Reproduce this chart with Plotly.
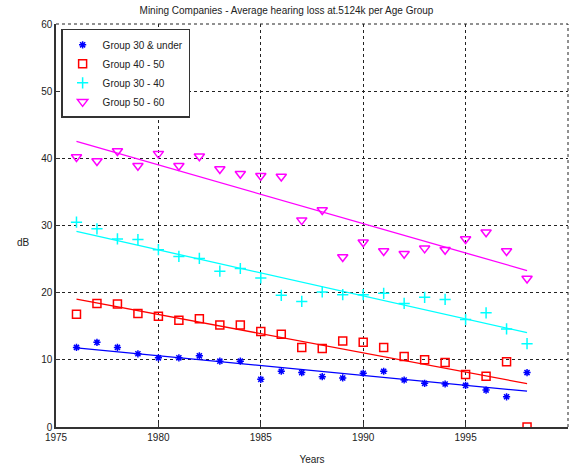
import numpy as np
import plotly.graph_objects as go

years = list(range(1976, 1999))
group_30_under = [11.85, 12.6, 11.85, 10.9, 10.3, 10.3, 10.6, 9.8, 9.8, 7.1, 8.3, 8.1,
                  7.5, 7.3, 8.0, 8.3, 7.0, 6.5, 6.4, 6.2, 5.5, 4.5, 8.1]
group_40_50 = [16.8, 18.4, 18.3, 16.9, 16.5, 15.9, 16.1, 15.2, 15.2, 14.2, 13.8, 11.85,
               11.7, 12.8, 12.6, 11.85, 10.5, 10.0, 9.6, 7.8, 7.55, 9.7, 0.0]
group_30_40 = [30.5, 29.5, 28.0, 27.9, 26.4, 25.4, 25.1, 23.2, 23.6, 22.2, 19.6, 18.7,
               20.1, 19.7, 19.7, 19.9, 18.4, 19.3, 19.0, 16.0, 17.0, 14.6, 12.4]
group_50_60 = [40.2, 39.6, 41.1, 38.9, 40.7, 38.9, 40.3, 38.4, 37.7, 37.4, 37.3, 30.8,
               32.3, 25.3, 27.5, 26.2, 25.8, 26.6, 26.4, 28.0, 29.0, 26.2, 22.1]

series = [
    ("Group 30 & under", group_30_under, "#0000ff", "asterisk-open", 6),
    ("Group 40 - 50", group_40_50, "#ff0000", "square-open", 8),
    ("Group 30 - 40", group_30_40, "#00ffff", "cross-thin-open", 8),
    ("Group 50 - 60", group_50_60, "#ff00ff", "triangle-down-open", 9),
]

fig = go.Figure()
for name, vals, color, sym, size in series:
    fig.add_trace(go.Scatter(x=years, y=vals, mode="markers", name=name,
                             marker=dict(symbol=sym, size=size, color=color,
                                         line=dict(width=1.5, color=color))))
for name, vals, color, sym, size in series:
    k, b = np.polyfit(years, vals, 1)
    xs = [years[0], years[-1]]
    fig.add_trace(go.Scatter(x=xs, y=[k * v + b for v in xs], mode="lines",
                             line=dict(color=color, width=1.3), showlegend=False,
                             hoverinfo="skip"))

font = "Liberation Sans, Arial, sans-serif"
fig.update_layout(
    width=573, height=469,
    margin=dict(l=56, r=5, t=24, b=39),
    paper_bgcolor="white", plot_bgcolor="white",
    font=dict(family=font, size=10, color="#222"),
    title=dict(text="Mining Companies - Average hearing loss at.5124k per Age Group",
               x=0.5, xanchor="center", y=0.985, yanchor="top",
               font=dict(size=10, color="#222")),
    showlegend=True,
    legend=dict(x=0.01, y=0.988, xanchor="left", yanchor="top",
                bordercolor="#333", borderwidth=1.5, bgcolor="white",
                font=dict(size=10, color="#222"), tracegroupgap=0,
                itemsizing="trace", itemwidth=30),
)
fig.update_xaxes(range=[1975, 2000], tickvals=[1975, 1980, 1985, 1990, 1995, 2000],
                 showgrid=True, gridcolor="#222", griddash="dot", gridwidth=1,
                 showline=True, linecolor="#333", linewidth=1.5, zeroline=False,
                 ticks="inside", ticklen=4, tickcolor="#333",
                 title=dict(text="Years", font=dict(size=10), standoff=14))
fig.update_yaxes(range=[0, 60], tickvals=[0, 10, 20, 30, 40, 50, 60],
                 showgrid=True, gridcolor="#222", griddash="dot", gridwidth=1,
                 showline=True, linecolor="#333", linewidth=1.5, zeroline=False,
                 ticks="inside", ticklen=4, tickcolor="#333")
fig.add_annotation(text="dB", xref="paper", yref="paper", x=-0.047, y=0.457,
                   xanchor="right", yanchor="middle", showarrow=False,
                   font=dict(size=10, color="#222"))
# dotted top and right frame
fig.add_shape(type="line", xref="paper", yref="paper", x0=0, x1=1, y0=1, y1=1,
              line=dict(color="#222", width=1, dash="dot"))
fig.add_shape(type="line", xref="paper", yref="paper", x0=1, x1=1, y0=0, y1=1,
              line=dict(color="#222", width=1, dash="dot"))
fig.write_html("out.html")
